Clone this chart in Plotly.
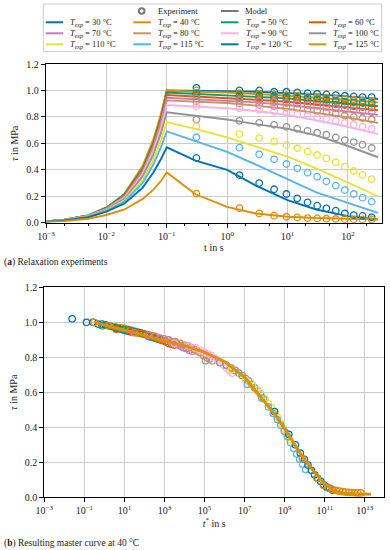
import plotly.graph_objects as go

# ---------------- data ----------------
temps = [30, 40, 50, 60, 70, 80, 90, 100, 110, 115, 120, 125]
colors = ['#0173b2', '#de8f05', '#029e73', '#d55e00', '#cc78bc', '#ca9161',
          '#fbafe4', '#949494', '#ece133', '#56b4e9', '#0173b2', '#de8f05']

# model (loading ramp to 0.1 s, then relaxation)
model_t = [0.001, 0.002, 0.005, 0.01, 0.02, 0.04, 0.06, 0.08, 0.1,
           0.3, 1, 3, 10, 30, 100, 316]
model_30 = [0.01, 0.022, 0.055, 0.11, 0.21, 0.41, 0.61, 0.80, 1.0, 1.0, 0.995, 0.99, 0.98, 0.97, 0.955, 0.935]
model_40 = [0.01, 0.02, 0.05, 0.10, 0.22, 0.43, 0.63, 0.82, 1.0, 0.99, 0.985, 0.975, 0.96, 0.945, 0.93, 0.91]
model_50 = [0.01, 0.022, 0.055, 0.115, 0.215, 0.41, 0.60, 0.79, 0.985, 0.975, 0.965, 0.955, 0.94, 0.92, 0.90, 0.88]
model_60 = [0.01, 0.021, 0.053, 0.11, 0.205, 0.40, 0.585, 0.775, 0.965, 0.955, 0.945, 0.93, 0.915, 0.895, 0.87, 0.85]
model_70 = [0.01, 0.021, 0.052, 0.105, 0.20, 0.39, 0.575, 0.76, 0.945, 0.935, 0.925, 0.91, 0.89, 0.865, 0.84, 0.815]
model_80 = [0.01, 0.02, 0.051, 0.103, 0.195, 0.38, 0.56, 0.745, 0.925, 0.915, 0.905, 0.885, 0.86, 0.83, 0.795, 0.755]
model_90 = [0.01, 0.02, 0.05, 0.10, 0.19, 0.37, 0.545, 0.715, 0.89, 0.88, 0.865, 0.845, 0.815, 0.775, 0.725, 0.67]
model_100 = [0.01, 0.02, 0.048, 0.097, 0.18, 0.35, 0.515, 0.675, 0.835, 0.81, 0.78, 0.745, 0.71, 0.66, 0.58, 0.495]
model_110 = [0.009, 0.019, 0.046, 0.093, 0.17, 0.325, 0.475, 0.62, 0.76, 0.71, 0.645, 0.575, 0.50, 0.41, 0.30, 0.20]
model_115 = [0.009, 0.018, 0.044, 0.089, 0.16, 0.30, 0.44, 0.57, 0.69, 0.615, 0.535, 0.44, 0.33, 0.23, 0.15, 0.075]
model_120 = [0.008, 0.017, 0.041, 0.083, 0.145, 0.265, 0.38, 0.48, 0.57, 0.47, 0.40, 0.28, 0.17, 0.10, 0.05, 0.025]
model_125 = [0.006, 0.012, 0.03, 0.058, 0.10, 0.18, 0.25, 0.315, 0.38, 0.215, 0.12, 0.07, 0.045, 0.035, 0.03, 0.025]
model_series = [model_30, model_40, model_50, model_60, model_70, model_80,
                model_90, model_100, model_110, model_115, model_120, model_125]

# experiments (relaxation phase)
exp_t = [0.31, 1.6, 3.4, 6.0, 9.6, 14.5, 21.5, 31, 44, 63, 89, 125, 175, 248]
exp_30 = [1.02, 1.0, 1.0, 0.99, 0.99, 0.985, 0.98, 0.975, 0.97, 0.965, 0.96, 0.955, 0.95, 0.95]
exp_40 = [1.0, 0.98, 0.975, 0.97, 0.965, 0.96, 0.955, 0.95, 0.945, 0.94, 0.935, 0.93, 0.925, 0.92]
exp_50 = [0.98, 0.965, 0.96, 0.955, 0.95, 0.945, 0.94, 0.935, 0.93, 0.92, 0.915, 0.91, 0.905, 0.90]
exp_60 = [0.96, 0.945, 0.94, 0.935, 0.93, 0.925, 0.92, 0.91, 0.905, 0.895, 0.89, 0.88, 0.875, 0.87]
exp_70 = [0.94, 0.925, 0.92, 0.91, 0.905, 0.90, 0.89, 0.885, 0.875, 0.865, 0.855, 0.85, 0.84, 0.835]
exp_80 = [0.92, 0.90, 0.89, 0.88, 0.87, 0.865, 0.855, 0.845, 0.835, 0.825, 0.81, 0.80, 0.79, 0.78]
exp_90 = [0.88, 0.865, 0.855, 0.84, 0.83, 0.82, 0.81, 0.795, 0.785, 0.77, 0.755, 0.74, 0.725, 0.71]
exp_100 = [0.78, 0.77, 0.755, 0.74, 0.725, 0.71, 0.695, 0.68, 0.665, 0.645, 0.625, 0.61, 0.59, 0.565]
exp_110 = [0.73, 0.67, 0.64, 0.613, 0.588, 0.563, 0.537, 0.512, 0.487, 0.457, 0.424, 0.391, 0.361, 0.33]
exp_115 = [0.646, 0.567, 0.517, 0.479, 0.444, 0.411, 0.378, 0.348, 0.313, 0.28, 0.247, 0.217, 0.189, 0.159]
exp_120 = [0.49, 0.36, 0.30, 0.253, 0.217, 0.184, 0.154, 0.129, 0.109, 0.091, 0.071, 0.058, 0.051, 0.041]
exp_125 = [0.22, 0.11, 0.07, 0.053, 0.045, 0.04, 0.035, 0.032, 0.03, 0.028, 0.027, 0.026, 0.025, 0.025]
exp_series = [exp_30, exp_40, exp_50, exp_60, exp_70, exp_80,
              exp_90, exp_100, exp_110, exp_115, exp_120, exp_125]

# time-temperature shift factors (log10 a_T) to the 40 °C reference
log_shift = [-1.1, 0.0, 0.4, 1.1, 2.0, 3.0, 4.0, 5.55, 6.85, 7.65, 9.0, 10.4]

# master curve model at 40 °C
master_t = [0.3, 1, 10, 100, 1e3, 1e4, 1e5, 1e6, 1e7, 3.16e7, 1e8, 3.16e8, 1e9,
            3.16e9, 1e10, 3.16e10, 1e11, 3.16e11, 1e12, 3.16e12, 1e13, 2e13]
master_tau = [1.0, 0.985, 0.955, 0.925, 0.895, 0.865, 0.83, 0.775, 0.686, 0.613, 0.546,
              0.476, 0.39, 0.305, 0.213, 0.141, 0.076, 0.036, 0.023, 0.02, 0.018, 0.017]

top_tickvals = [1e-3, 1e-2, 1e-1, 1e0, 1e1, 1e2]
top_ticktext = ['10<sup>−3</sup>', '10<sup>−2</sup>', '10<sup>−1</sup>',
                '10<sup>0</sup>', '10<sup>1</sup>', '10<sup>2</sup>']
bot_tickvals = [1e-3, 1e-1, 1e1, 1e3, 1e5, 1e7, 1e9, 1e11, 1e13]
bot_ticktext = ['10<sup>−3</sup>', '10<sup>−1</sup>', '10<sup>1</sup>', '10<sup>3</sup>',
                '10<sup>5</sup>', '10<sup>7</sup>', '10<sup>9</sup>', '10<sup>11</sup>',
                '10<sup>13</sup>']
y_tickvals = [0.0, 0.2, 0.4, 0.6, 0.8, 1.0, 1.2]

# ---------------- figure ----------------
W, H = 390, 550
FONT = 'Liberation Serif'
fig = go.Figure()

for c, m in zip(colors, model_series):
    fig.add_trace(go.Scatter(x=model_t, y=m, mode='lines', line=dict(color=c, width=1.9),
                             xaxis='x', yaxis='y', showlegend=False, hoverinfo='skip'))
for c, e in zip(colors, exp_series):
    fig.add_trace(go.Scatter(x=exp_t, y=e, mode='markers',
                             marker=dict(symbol='circle-open', size=6.5, color=c, line=dict(width=1.3, color=c)),
                             xaxis='x', yaxis='y', showlegend=False, hoverinfo='skip'))

for c, e, s in zip(colors, exp_series, log_shift):
    fig.add_trace(go.Scatter(x=[t * 10 ** s for t in exp_t], y=e, mode='markers',
                             marker=dict(symbol='circle-open', size=6.5, color=c, line=dict(width=1.2, color=c)),
                             xaxis='x2', yaxis='y2', showlegend=False, hoverinfo='skip'))
fig.add_trace(go.Scatter(x=master_t, y=master_tau, mode='lines',
                         line=dict(color=colors[1], width=3),
                         xaxis='x2', yaxis='y2', showlegend=False, hoverinfo='skip'))

axis_common = dict(showline=True, linecolor='black', linewidth=1.3, mirror=True,
                   ticks='outside', ticklen=4, tickwidth=1, tickcolor='black',
                   showgrid=True, gridcolor='#cbcbcb', gridwidth=1.3, zeroline=False,
                   tickfont=dict(family=FONT, size=10, color='#222'), automargin=False)

fig.update_layout(
    width=W, height=H, margin=dict(l=0, r=0, t=0, b=0),
    paper_bgcolor='white', plot_bgcolor='white', showlegend=False,
    font=dict(family=FONT, size=10, color='#222'),
    xaxis=dict(type='log', range=[-3, 2.56], domain=[46 / W, 381.7 / W], anchor='y',
               tickvals=top_tickvals, ticktext=top_ticktext,
               minor=dict(ticks='outside', ticklen=2, tickcolor='black', showgrid=False),
               title=dict(text='t in s', font=dict(family=FONT, size=10), standoff=2),
               **axis_common),
    yaxis=dict(range=[0, 1.2], domain=[1 - 222.7 / H, 1 - 64 / H], anchor='x',
               tickvals=y_tickvals, tickformat='.1f',
               title=dict(text='<i>τ</i> in MPa', font=dict(family=FONT, size=10), standoff=5),
               **axis_common),
    xaxis2=dict(type='log', range=[-3, 13.97], domain=[44.3 / W, 384.3 / W], anchor='y2',
                tickvals=bot_tickvals, ticktext=bot_ticktext,
                title=dict(text='<i>t</i><sup>*</sup> in s', font=dict(family=FONT, size=10), standoff=2),
                **axis_common),
    yaxis2=dict(range=[0, 1.2], domain=[1 - 497.3 / H, 1 - 287.3 / H], anchor='x2',
                tickvals=y_tickvals, tickformat='.1f',
                title=dict(text='<i>τ</i> in MPa', font=dict(family=FONT, size=10), standoff=5),
                **axis_common),
)

# ---------------- legend (drawn as a framed key) ----------------
def px(x):
    return x / W

def py(y):
    return 1 - y / H

shapes = [dict(type='rect', xref='paper', yref='paper', x0=px(43.3), x1=px(381.7),
               y0=py(51.7), y1=py(4), line=dict(color='#cccccc', width=1), fillcolor='white', layer='above')]
annotations = []
col_x = [45.7, 133.3, 221.0, 308.8]
row_y = [22.3, 33.3, 44.3]
key_font = dict(family=FONT, size=8.5, color='#222')

# header row: Experiment / Model
shapes.append(dict(type='circle', xref='paper', yref='paper', x0=px(138.9), x1=px(144.5),
                   y0=py(13.8), y1=py(8.2), line=dict(color='#777777', width=2), layer='above'))
annotations.append(dict(x=px(156), y=py(11), xref='paper', yref='paper', text='Experiment',
                        showarrow=False, xanchor='left', yanchor='middle', font=key_font))
shapes.append(dict(type='line', xref='paper', yref='paper', x0=px(221), x1=px(238.5),
                   y0=py(11), y1=py(11), line=dict(color='#777777', width=2), layer='above'))
annotations.append(dict(x=px(243.3), y=py(11), xref='paper', yref='paper', text='Model',
                        showarrow=False, xanchor='left', yanchor='middle', font=key_font))

for i, (T, c) in enumerate(zip(temps, colors)):
    cx = col_x[i % 4]
    ry = row_y[i // 4]
    shapes.append(dict(type='line', xref='paper', yref='paper', x0=px(cx), x1=px(cx + 17.5),
                       y0=py(ry), y1=py(ry), line=dict(color=c, width=2), layer='above'))
    annotations.append(dict(x=px(cx + 22.5), y=py(ry), xref='paper', yref='paper',
                            text=f'<i>T</i><sub><i>exp</i></sub> = {T} °C',
                            showarrow=False, xanchor='left', yanchor='middle', font=key_font))

# captions
annotations.append(dict(x=px(2), y=py(262), xref='paper', yref='paper',
                        text='(<b>a</b>) Relaxation experiments', showarrow=False,
                        xanchor='left', yanchor='middle', font=dict(family=FONT, size=9.5, color='#222')))
annotations.append(dict(x=px(2), y=py(543), xref='paper', yref='paper',
                        text='(<b>b</b>) Resulting master curve at 40 °C', showarrow=False,
                        xanchor='left', yanchor='middle', font=dict(family=FONT, size=9.5, color='#222')))

fig.update_layout(shapes=shapes, annotations=annotations)
fig.write_html('out.html', config={'displayModeBar': False},
               post_script="document.body.style.margin='0px';document.body.style.overflow='hidden';")
